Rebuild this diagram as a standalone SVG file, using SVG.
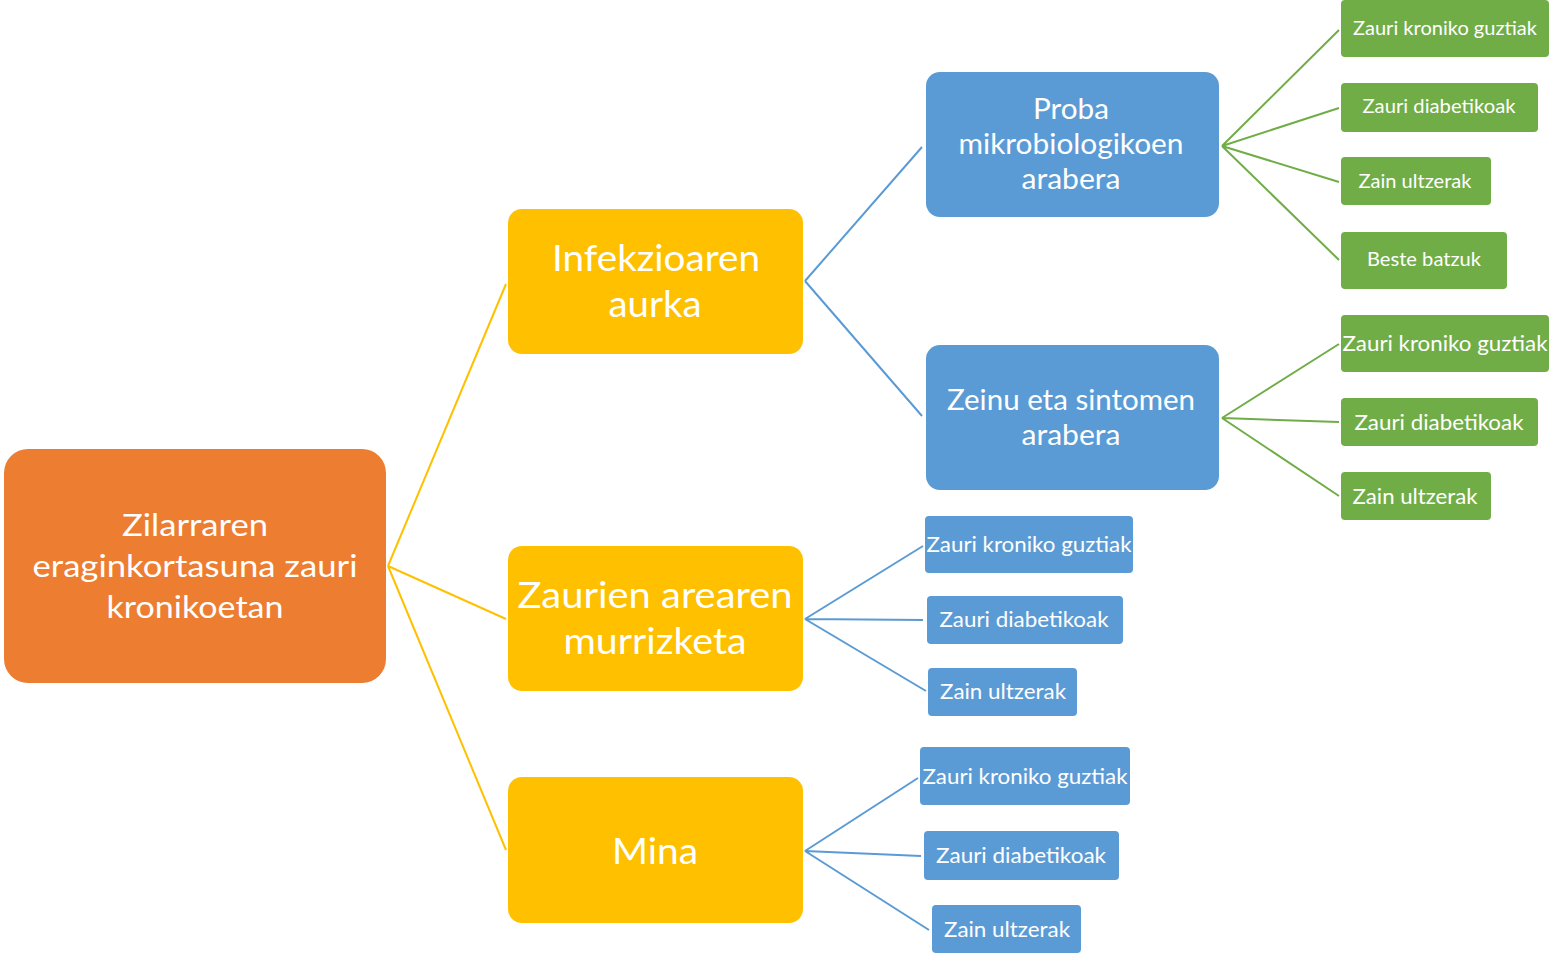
<svg xmlns="http://www.w3.org/2000/svg" width="1551" height="954" viewBox="0 0 1551 954">
<style>
text{font-family:Lato,"Open Sans","Liberation Sans",sans-serif;fill:#fff;text-anchor:middle}
.root rect{fill:#ED7D31}
.y rect{fill:#FFC000}
.b rect{fill:#5B9BD5}
.g rect{fill:#70AD47}
.cy{stroke:#FFC000;stroke-width:2;fill:none}
.cb{stroke:#5B9BD5;stroke-width:2;fill:none}
.cg{stroke:#70AD47;stroke-width:2;fill:none}
.t31{font-size:31px}.t37{font-size:37px}.t28{font-size:28px}.t22{font-size:22px}.t19{font-size:19px}
</style>
<rect width="1551" height="954" fill="#fff"/>
<g id="connectors">
<path class="cy" d="M388 566L506 284M388 566L506 619M388 566L506 850"/>
<path class="cb" d="M805 281L922 147M805 281L922 416"/>
<path class="cg" d="M1222 146L1339 30M1222 146L1339 108M1222 146L1339 182M1222 146L1339 260"/>
<path class="cg" d="M1222 418L1339 344M1222 418L1339 422M1222 418L1339 496"/>
<path class="cb" d="M805 619L923 546M805 619L923 620M805 619L926 691"/>
<path class="cb" d="M805 851L918 778M805 851L921 856M805 851L929 930"/>
</g>
<g id="root" class="root"><rect x="4" y="449" width="382" height="234" rx="24"/>
<text class="t31" x="195" y="536" textLength="146" lengthAdjust="spacingAndGlyphs">Zilarraren</text>
<text class="t31" x="195" y="577" textLength="325" lengthAdjust="spacingAndGlyphs">eraginkortasuna zauri</text>
<text class="t31" x="195" y="618" textLength="177" lengthAdjust="spacingAndGlyphs">kronikoetan</text></g>
<g id="infekzioa" class="y"><rect x="508" y="209" width="295" height="145" rx="14"/>
<text class="t37" x="656" y="271" textLength="208" lengthAdjust="spacingAndGlyphs">Infekzioaren</text>
<text class="t37" x="655" y="317" textLength="93" lengthAdjust="spacingAndGlyphs">aurka</text></g>
<g id="zaurien" class="y"><rect x="508" y="546" width="295" height="145" rx="14"/>
<text class="t37" x="655" y="608" textLength="275" lengthAdjust="spacingAndGlyphs">Zaurien arearen</text>
<text class="t37" x="655" y="654" textLength="183" lengthAdjust="spacingAndGlyphs">murrizketa</text></g>
<g id="mina" class="y"><rect x="508" y="777" width="295" height="146" rx="14"/>
<text class="t37" x="655" y="864" textLength="86" lengthAdjust="spacingAndGlyphs">Mina</text></g>
<g id="proba" class="b"><rect x="926" y="72" width="293" height="145" rx="14"/>
<text class="t28" x="1071" y="119" textLength="76" lengthAdjust="spacingAndGlyphs">Proba</text>
<text class="t28" x="1071" y="154" textLength="225" lengthAdjust="spacingAndGlyphs">mikrobiologikoen</text>
<text class="t28" x="1071" y="189" textLength="99" lengthAdjust="spacingAndGlyphs">arabera</text></g>
<g id="zeinu" class="b"><rect x="926" y="345" width="293" height="145" rx="14"/>
<text class="t28" x="1071" y="410" textLength="248" lengthAdjust="spacingAndGlyphs">Zeinu eta sintomen</text>
<text class="t28" x="1071" y="445" textLength="99" lengthAdjust="spacingAndGlyphs">arabera</text></g>
<g id="p1" class="g"><rect x="1341" y="0" width="208" height="57" rx="4"/><text class="t19" x="1445" y="35" textLength="184" lengthAdjust="spacingAndGlyphs">Zauri kroniko guztiak</text></g>
<g id="p2" class="g"><rect x="1341" y="83" width="197" height="49" rx="4"/><text class="t19" x="1439" y="113" textLength="153" lengthAdjust="spacingAndGlyphs">Zauri diabetikoak</text></g>
<g id="p3" class="g"><rect x="1341" y="157" width="150" height="48" rx="4"/><text class="t19" x="1415" y="188" textLength="113" lengthAdjust="spacingAndGlyphs">Zain ultzerak</text></g>
<g id="p4" class="g"><rect x="1341" y="232" width="166" height="57" rx="4"/><text class="t19" x="1424" y="266" textLength="114" lengthAdjust="spacingAndGlyphs">Beste batzuk</text></g>
<g id="z1" class="g"><rect x="1341" y="315" width="208" height="57" rx="4"/><text class="t22" x="1445" y="351" textLength="205" lengthAdjust="spacingAndGlyphs">Zauri kroniko guztiak</text></g>
<g id="z2" class="g"><rect x="1341" y="398" width="197" height="48" rx="4"/><text class="t22" x="1439" y="430" textLength="169" lengthAdjust="spacingAndGlyphs">Zauri diabetikoak</text></g>
<g id="z3" class="g"><rect x="1341" y="472" width="150" height="48" rx="4"/><text class="t22" x="1415" y="504" textLength="125" lengthAdjust="spacingAndGlyphs">Zain ultzerak</text></g>
<g id="a1" class="b"><rect x="925" y="516" width="208" height="57" rx="4"/><text class="t22" x="1029" y="552" textLength="205" lengthAdjust="spacingAndGlyphs">Zauri kroniko guztiak</text></g>
<g id="a2" class="b"><rect x="927" y="596" width="196" height="48" rx="4"/><text class="t22" x="1024" y="627" textLength="169" lengthAdjust="spacingAndGlyphs">Zauri diabetikoak</text></g>
<g id="a3" class="b"><rect x="928" y="668" width="149" height="48" rx="4"/><text class="t22" x="1003" y="699" textLength="126" lengthAdjust="spacingAndGlyphs">Zain ultzerak</text></g>
<g id="m1" class="b"><rect x="920" y="747" width="210" height="58" rx="4"/><text class="t22" x="1025" y="784" textLength="205" lengthAdjust="spacingAndGlyphs">Zauri kroniko guztiak</text></g>
<g id="m2" class="b"><rect x="924" y="831" width="195" height="49" rx="4"/><text class="t22" x="1021" y="863" textLength="170" lengthAdjust="spacingAndGlyphs">Zauri diabetikoak</text></g>
<g id="m3" class="b"><rect x="932" y="905" width="149" height="48" rx="4"/><text class="t22" x="1007" y="937" textLength="126" lengthAdjust="spacingAndGlyphs">Zain ultzerak</text></g>
</svg>
